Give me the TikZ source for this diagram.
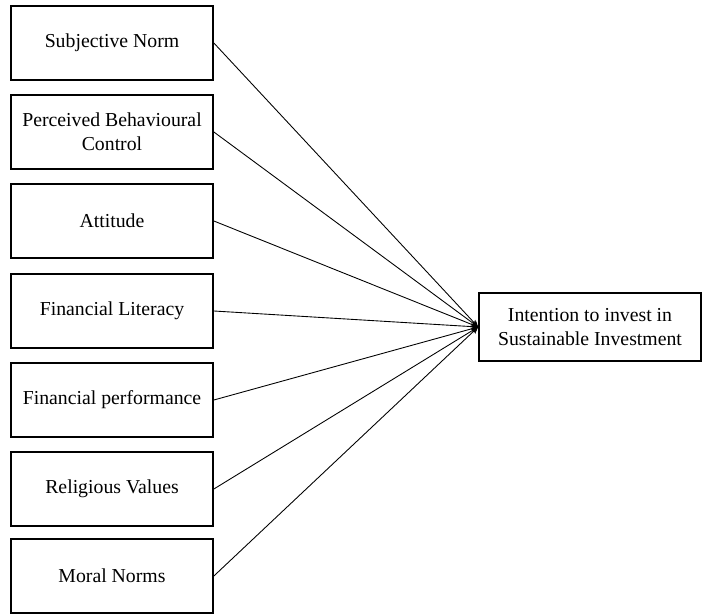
\documentclass[tikz,border=0pt]{standalone}
\usepackage{fontspec}
\newfontfamily\boxfont{Liberation Serif}
\usepackage{tikz}
\usetikzlibrary{arrows.meta}

\begin{document}
\begin{tikzpicture}[x=0.02cm,y=-0.02cm,>={Stealth[length=4pt,width=3.5pt]},
    factor/.style={draw,line width=1pt,minimum width=4.04cm,minimum height=1.48cm,
      align=center,inner sep=2pt,font=\boxfont\fontsize{11.25}{13.5}\selectfont},
    outcome/.style={factor,minimum width=4.44cm,minimum height=1.36cm},
    link/.style={->,line width=0.5pt}]
    \useasboundingbox (0,0) rectangle (702,614);
    \node[factor] (sn)  at (112,43)  {Subjective Norm};
    \node[factor] (pbc) at (112,132) {Perceived Behavioural\\Control};
    \node[factor] (att) at (112,221) {Attitude};
    \node[factor] (fl)  at (112,311) {Financial Literacy};
    \node[factor] (fp)  at (112,400) {Financial performance};
    \node[factor] (rv)  at (112,489) {Religious Values};
    \node[factor] (mn)  at (112,576) {Moral Norms};
    \node[outcome] (int) at (590,327) {Intention to invest in\\Sustainable Investment};
    \foreach \n in {sn,pbc,att,fl,fp,rv,mn}
      \draw[link] (\n.east) -- (int.west);
  \end{tikzpicture}
\end{document}
